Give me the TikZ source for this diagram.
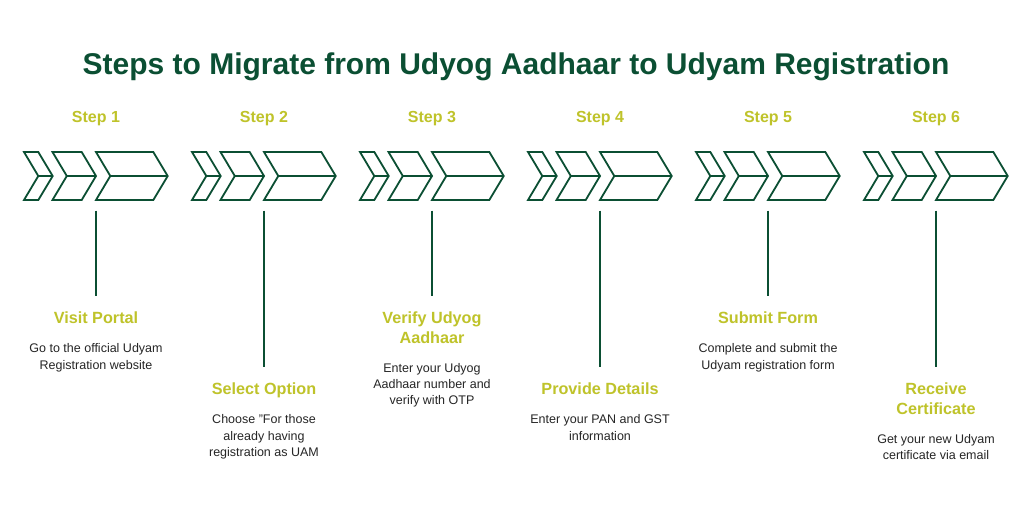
\documentclass[tikz,border=0pt]{standalone}
\usepackage{fontspec}
\setmainfont{Liberation Sans}
\usetikzlibrary{positioning}
\definecolor{UdyamGreen}{HTML}{0B4F33}
\definecolor{UdyamLime}{HTML}{BFC32A}
\definecolor{UdyamInk}{HTML}{262626}
\tikzset{
  heading/.style={font=\fontsize{30}{34}\selectfont\bfseries, text=UdyamGreen, anchor=base},
  steplabel/.style={font=\fontsize{16}{19}\selectfont\bfseries, text=UdyamLime, anchor=base},
  steptitle/.style={font=\fontsize{16.2}{19.5}\selectfont\bfseries, text=UdyamLime,
    align=center, inner sep=0pt, anchor=north, text depth=0pt},
  stepnote/.style={font=\fontsize{12.5}{16.3}\selectfont, text=UdyamInk,
    align=center, inner sep=0pt},
  chevron/.style={draw=UdyamGreen, line width=1.8pt, line join=miter},
  stem/.style={draw=UdyamGreen, line width=2pt, shorten >=16pt},
  pics/arrowrow/.style={code={
    \draw[chevron] (-72,-24) -- (-57.7,-24) -- (-43.3,0) -- (-57.7,24) -- (-72,24) -- (-57.7,0) -- cycle
      (-57.7,0) -- (-43.3,0);
    \draw[chevron] (-43.5,-24) -- (-14.3,-24) -- (0,0) -- (-14.3,24) -- (-43.5,24) -- (-29.2,0) -- cycle
      (-29.2,0) -- (0,0);
    \draw[chevron] (0,-24) -- (57.3,-24) -- (71.7,0) -- (57.3,24) -- (0,24) -- (14.3,0) -- cycle
      (14.3,0) -- (71.7,0);
  }}
}
\begin{document}
\begin{tikzpicture}[x=1pt, y=-1pt, node distance=19.3pt]
  \useasboundingbox[fill=white] (0,0) rectangle (1032,512);
  \node[heading] (title) at (516,74.5) {Steps to Migrate from Udyog Aadhaar to Udyam Registration};

  % step labels and arrow rows
  \node[steplabel] (s1) at (96,122.8) {Step 1};
  \node[steplabel] (s2) at (264,122.8) {Step 2};
  \node[steplabel] (s3) at (432,122.8) {Step 3};
  \node[steplabel] (s4) at (600,122.8) {Step 4};
  \node[steplabel] (s5) at (768,122.8) {Step 5};
  \node[steplabel] (s6) at (936,122.8) {Step 6};
  \pic at (96,176) {arrowrow};
  \pic at (264,176) {arrowrow};
  \pic at (432,176) {arrowrow};
  \pic at (600,176) {arrowrow};
  \pic at (768,176) {arrowrow};
  \pic at (936,176) {arrowrow};
  \coordinate (b1) at (96,210.7);
  \coordinate (b2) at (264,210.7);
  \coordinate (b3) at (432,210.7);
  \coordinate (b4) at (600,210.7);
  \coordinate (b5) at (768,210.7);
  \coordinate (b6) at (936,210.7);

  % titles and notes
  \node[steptitle] (t1) at (96,312) {Visit Portal};
  \node[stepnote, below=of t1] (n1) {Go to the official Udyam\\Registration website};
  \node[steptitle] (t2) at (264,383) {Select Option};
  \node[stepnote, below=of t2] (n2) {Choose "For those\\already having\\registration as UAM};
  \node[steptitle] (t3) at (432,312) {Verify Udyog\\Aadhaar};
  \node[stepnote, below=of t3] (n3) {Enter your Udyog\\Aadhaar number and\\verify with OTP};
  \node[steptitle] (t4) at (600,383) {Provide Details};
  \node[stepnote, below=of t4] (n4) {Enter your PAN and GST\\information};
  \node[steptitle] (t5) at (768,312) {Submit Form};
  \node[stepnote, below=of t5] (n5) {Complete and submit the\\Udyam registration form};
  \node[steptitle] (t6) at (936,383) {Receive\\Certificate};
  \node[stepnote, below=of t6] (n6) {Get your new Udyam\\certificate via email};

  \draw[stem] (b1) -- (t1);
  \draw[stem] (b2) -- (t2);
  \draw[stem] (b3) -- (t3);
  \draw[stem] (b4) -- (t4);
  \draw[stem] (b5) -- (t5);
  \draw[stem] (b6) -- (t6);
\end{tikzpicture}
\end{document}
